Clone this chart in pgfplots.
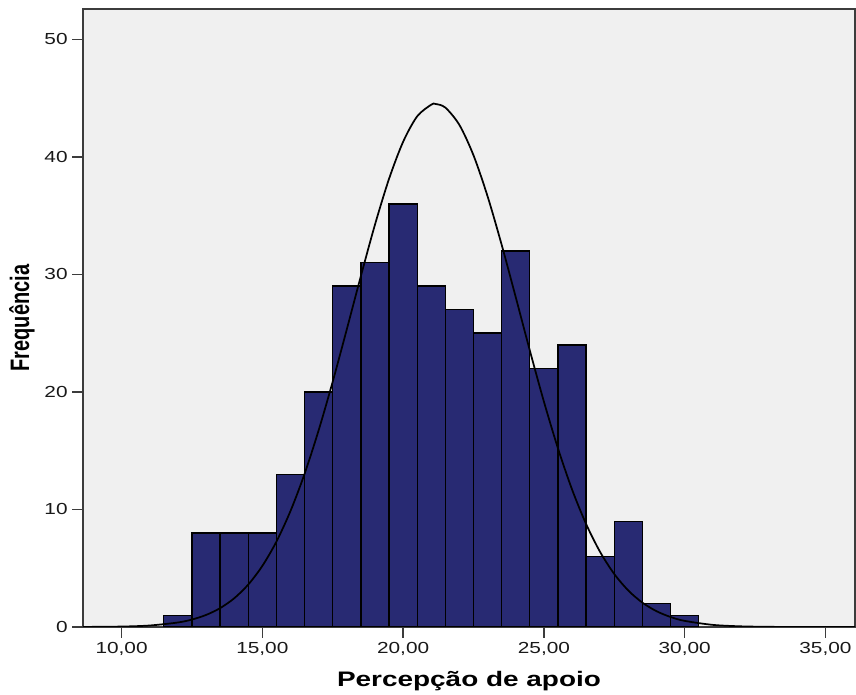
\documentclass[border=0pt]{standalone}
\usepackage{fontspec}
\setmainfont{Liberation Sans}
\newfontfamily\tickfont[FakeStretch=1.3]{Liberation Sans}
\newfontfamily\xlabfont[FakeStretch=1.33]{Liberation Sans}
\newfontfamily\ylabfont[FakeStretch=0.75]{Liberation Sans}
\usepackage{pgfplots}
\pgfplotsset{compat=1.18}

\definecolor{barnavy}{RGB}{40,42,115}
\definecolor{panel}{RGB}{240,240,240}
\definecolor{framegray}{RGB}{60,60,60}

\begin{document}
\begin{tikzpicture}
\begin{axis}[
    set layers,
    scale only axis,
    width=579pt, height=463.5pt,
    xmin=8.63, xmax=36.05,
    ymin=0, ymax=52.58,
    axis background/.style={fill=panel},
    axis line style={framegray, line width=1.1pt},
    xtick={10,15,...,35},
    ytick={0,10,...,50},
    tick align=outside,
    tick pos=left,
    major tick length=8pt,
    tick style={framegray, line width=1.1pt},
    /pgf/number format/assume math mode=true,
    x tick label style={/pgf/number format/.cd, fixed, fixed zerofill, precision=2, use comma, /tikz/.cd},
    ticklabel style={font=\tickfont\fontsize{12}{14}\selectfont, text=black!90},
    clip mode=individual,
]
% histogram
\addplot[ybar interval, fill=barnavy, draw=black, line width=1pt] coordinates {
(11.5,1) (12.5,8) (13.5,8) (14.5,8) (15.5,13) (16.5,20) (17.5,29) (18.5,31)
(19.5,36) (20.5,29) (21.5,27) (22.5,25) (23.5,32) (24.5,22) (25.5,24)
(26.5,6) (27.5,9) (28.5,2) (29.5,1) (30.5,0)};

% normal curve
\addplot[black, line width=1.3pt, smooth, mark=none, on layer=axis foreground] coordinates {
(8.63,0.006) (10,0.038) (11,0.128) (12,0.383) (12.5,0.635) (13,1.024)
(13.5,1.604) (14,2.441) (14.5,3.612) (15,5.197) (15.5,7.263) (16,9.870)
(16.5,13.03) (17,16.74) (17.5,20.88) (18,25.33) (18.5,29.86) (19,34.23)
(19.5,38.13) (20,41.28) (20.5,43.45) (21,44.44) (21.15,44.5) (21.5,44.19)
(22,42.71) (22.5,40.13) (23,36.64) (23.5,32.52) (24,28.06) (24.5,23.53)
(25,19.18) (25.5,15.20) (26,11.70) (26.5,8.758) (27,6.372) (27.5,4.508)
(28,3.099) (28.5,2.070) (29,1.345) (29.5,0.849) (30,0.521) (31,0.180)
(32,0.056) (33,0.015) (34,0.004) (36.05,0.0)};

\node[rotate=90, font=\ylabfont\bfseries\fontsize{20}{24}\selectfont]
  at (rel axis cs:-0.079,0.5) {Frequência};
\node[anchor=base, font=\xlabfont\bfseries\fontsize{15.75}{19}\selectfont]
  at (rel axis cs:0.5,0) [yshift=-45pt] {Percepção de apoio};
\end{axis}
\pgfresetboundingbox
\path[use as bounding box] (-62.25pt,-51pt) rectangle (579.75pt,470.25pt);
\end{tikzpicture}
\end{document}
